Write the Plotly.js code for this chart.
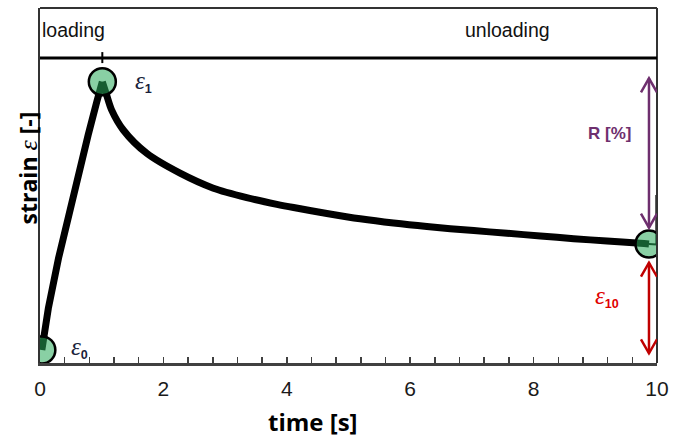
<!DOCTYPE html>
<html>
<head>
<meta charset="utf-8">
<script src="https://cdn.plot.ly/plotly-3.0.1.min.js"></script>
<style>html,body{margin:0;padding:0;background:#fff;}#chart{width:673px;height:439px;}</style>
</head>
<body>
<div id="chart"></div>
<script>
// ---- data ----
const time   = [0.03, 0.135, 0.30, 0.46, 0.62, 0.78, 0.92, 1.01, 1.08, 1.16, 1.35, 1.73, 2.27, 2.81, 3.35, 3.84, 4.11, 4.65, 5.19, 5.73, 6.27, 7.03, 7.57, 8.11, 8.65, 9.19, 9.73, 9.87];
const strain = [0.0, 0.155, 0.342, 0.503, 0.652, 0.801, 0.925, 1.0, 0.95, 0.895, 0.82, 0.733, 0.659, 0.603, 0.568, 0.543, 0.531, 0.509, 0.489, 0.473, 0.460, 0.445, 0.435, 0.425, 0.415, 0.406, 0.398, 0.395];
const tailTime   = [9.87, 9.99, 9.99];
const tailStrain = [0.395, 0.393, 0.578];
const keyNames  = ['ε0', 'ε1', 'ε10'];
const keyTime   = [0.03, 1.01, 9.87];
const keyStrain = [0.0, 1.0, 0.395];
const xTickVals = [0, 2, 4, 6, 8, 10];
const xTickText = ['0', '2', '4', '6', '8', '10'];
const phaseNames = ['loading', 'unloading'];

// ---- layout constants ----
const yMin = -0.0485, yMax = 1.2747;
const plotH = 355;
const ppu = plotH / (yMax - yMin);       // pixels per strain unit
const sepLevel = 1.088;
const arrowX = keyTime[2];
const purple = '#6e2f6e', darkRed = '#c00000';

// split the curve at its peak: straight loading branch, smooth creep branch
const iPeak = strain.indexOf(Math.max.apply(null, strain));
const loadT = time.slice(0, iPeak + 1), loadS = strain.slice(0, iPeak + 1);
const creepT = time.slice(iPeak), creepS = strain.slice(iPeak);

function vline(x, y0, y1, color, w) {
  return {type:'line', xref:'x', yref:'y', x0:x, x1:x, y0:y0, y1:y1, line:{color:color, width:w}};
}
function head(x, yTip, dir, color) {
  const d = -dir * 14;
  return {type:'path', xref:'x', yref:'y', xsizemode:'pixel', ysizemode:'pixel',
          xanchor:x, yanchor:yTip,
          path:'M -8,' + d + ' L 0,0 L 8,' + d,
          line:{color:color, width:2.5}};
}

const pTop = keyStrain[1] + 3.4 / ppu;
const pBot = keyStrain[2] + 16.3 / ppu;
const rTop = keyStrain[2] - 18.7 / ppu;
const rBot = keyStrain[0] - 3.3 / ppu;

const shapes = [
  {type:'line', xref:'paper', yref:'paper', x0:0, x1:1, y0:1, y1:1, line:{color:'#333', width:2}},
  {type:'line', xref:'paper', yref:'paper', x0:1, x1:1, y0:0, y1:1, line:{color:'#333', width:2}},
  {type:'line', xref:'paper', yref:'y', x0:0, x1:1, y0:sepLevel, y1:sepLevel, line:{color:'#000', width:3}},
  {type:'line', xref:'x', yref:'y', ysizemode:'pixel', yanchor:sepLevel, x0:keyTime[1], x1:keyTime[1], y0:-5, y1:6, line:{color:'#000', width:2}},
  vline(arrowX, pBot, pTop, purple, 2.5), head(arrowX, pTop, 1, purple), head(arrowX, pBot, -1, purple),
  vline(arrowX, rBot, rTop, darkRed, 2.5), head(arrowX, rTop, 1, darkRed), head(arrowX, rBot, -1, darkRed)
];

const eps = '<span style="font-family:\'Liberation Serif\';font-style:italic;font-weight:normal;font-size:25px">ε</span>';
const epsTitle = '<span style="font-family:\'Liberation Serif\';font-style:italic;font-weight:normal;font-size:26px">ε</span>';
function epsLabel(name) { return eps + '<sub>' + name.slice(1) + '</sub>'; }

const annotations = [
  {xref:'x', yref:'y', x:keyTime[0], y:keyStrain[0], xanchor:'center', yanchor:'middle', xshift:38, yshift:2, showarrow:false, text:epsLabel(keyNames[0]), font:{family:'Liberation Sans', size:18, color:'#1b1f3b', weight:'bold'}},
  {xref:'x', yref:'y', x:keyTime[1], y:keyStrain[1], xanchor:'center', yanchor:'middle', xshift:41, yshift:0, showarrow:false, text:epsLabel(keyNames[1]), font:{family:'Liberation Sans', size:18, color:'#1b1f3b', weight:'bold'}},
  {xref:'x', yref:'y', x:arrowX, y:keyStrain[2] / 2, xanchor:'center', yanchor:'middle', xshift:-42, yshift:1, showarrow:false, text:epsLabel(keyNames[2]), font:{family:'Liberation Sans', size:18, color:'#e00000', weight:'bold'}},
  {xref:'x', yref:'y', x:arrowX, y:(keyStrain[1] + keyStrain[2]) / 2, xanchor:'center', yanchor:'middle', xshift:-39, yshift:29, showarrow:false, text:'R [%]', font:{family:'Liberation Sans', size:17, color:purple, weight:'bold'}},
  {xref:'x', yref:'paper', x:0, y:0.937, xanchor:'left', yanchor:'middle', xshift:0, showarrow:false, text:phaseNames[0], font:{family:'Liberation Sans', size:19.5, color:'#111'}},
  {xref:'x', yref:'paper', x:7.57, y:0.937, xanchor:'center', yanchor:'middle', showarrow:false, text:phaseNames[1], font:{family:'Liberation Sans', size:19.5, color:'#111'}},
  {xref:'paper', yref:'paper', x:0.442, y:-0.165, xanchor:'center', yanchor:'middle', showarrow:false, text:'time [s]', font:{family:'Open Sans', size:24, color:'#000', weight:'bold'}},
  {xref:'paper', yref:'paper', x:-0.019, y:0.549, xanchor:'center', yanchor:'middle', textangle:-90, showarrow:false, text:'strain ' + epsTitle + ' [-]', font:{family:'Open Sans', size:23, color:'#000', weight:'bold'}}
];

const traces = [
  {x:loadT, y:loadS, mode:'lines', line:{color:'#000', width:7}, hoverinfo:'skip'},
  {x:creepT, y:creepS, mode:'lines', line:{color:'#000', width:7, shape:'spline', smoothing:0.8}, hoverinfo:'skip'},
  {x:tailTime, y:tailStrain, mode:'lines', line:{color:'#000', width:2}, hoverinfo:'skip'},
  {x:keyTime, y:keyStrain, mode:'markers', marker:{size:27, color:'rgba(40,170,90,0.55)', line:{color:'#000', width:2.5}}, hoverinfo:'skip'}
];

const layout = {
  width:673, height:439,
  margin:{l:40, r:16, t:8, b:76},
  paper_bgcolor:'#fff', plot_bgcolor:'#fff',
  showlegend:false,
  xaxis:{range:[0, 10], showgrid:false, zeroline:false, showline:true, linecolor:'#404040', linewidth:2.5,
         tickmode:'array', tickvals:xTickVals, ticktext:xTickText, ticks:'inside', ticklen:6, tickwidth:1.5, tickcolor:'#404040',
         ticklabelstandoff:5,
         minor:{tick0:0, dtick:0.4, ticks:'inside', ticklen:6, tickwidth:1.5, tickcolor:'#404040'},
         tickfont:{family:'Liberation Sans', size:21, color:'#1a1a1a'}, fixedrange:true},
  yaxis:{range:[yMin, yMax], showgrid:false, zeroline:false, showline:true, linecolor:'#333', linewidth:2,
         showticklabels:false, ticks:'', fixedrange:true},
  shapes:shapes,
  annotations:annotations
};

Plotly.newPlot('chart', traces, layout, {displayModeBar:false, staticPlot:true});
</script>
</body>
</html>
